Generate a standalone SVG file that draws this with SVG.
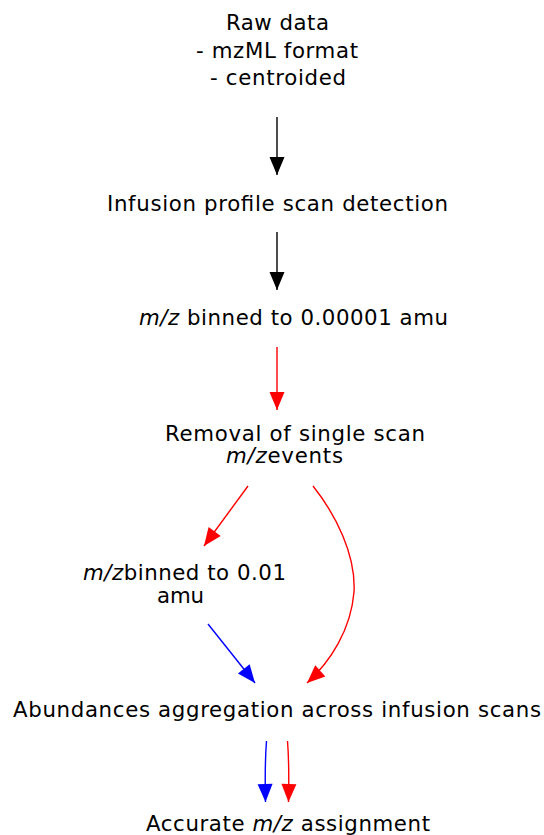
<svg xmlns="http://www.w3.org/2000/svg" width="544" height="835" viewBox="0 0 544 835">
<style>
text{font-family:"DejaVu Sans","Liberation Sans",sans-serif;font-size:21.3px;fill:#000;text-anchor:middle}
.i{font-style:italic}
.e{fill:none;stroke-width:1.4}
</style>
<defs>
<marker id="ak" markerUnits="userSpaceOnUse" markerWidth="20" markerHeight="16" viewBox="0 -8 18 16" refX="18" refY="0" orient="auto"><path d="M0,-7.5L18,0L0,7.5z" fill="#000"/></marker>
<marker id="ar" markerUnits="userSpaceOnUse" markerWidth="20" markerHeight="16" viewBox="0 -8 18 16" refX="18" refY="0" orient="auto"><path d="M0,-7.5L18,0L0,7.5z" fill="#f00"/></marker>
<marker id="ab" markerUnits="userSpaceOnUse" markerWidth="20" markerHeight="16" viewBox="0 -8 18 16" refX="18" refY="0" orient="auto"><path d="M0,-7.5L18,0L0,7.5z" fill="#00f"/></marker>
</defs>
<rect width="544" height="835" fill="#fff"/>
<g id="edges">
<path class="e" stroke="#000" d="M277,117L277,175" marker-end="url(#ak)"/>
<path class="e" stroke="#000" d="M277,232L277,290" marker-end="url(#ak)"/>
<path class="e" stroke="#f00" d="M277,347L277,410" marker-end="url(#ar)"/>
<path class="e" stroke="#f00" d="M248,486L204,546" marker-end="url(#ar)"/>
<path class="e" stroke="#f00" d="M313,486C336,515 356,555 354,592C351,630 330,662 307,683" marker-end="url(#ar)"/>
<path class="e" stroke="#00f" d="M208,624L255,683" marker-end="url(#ab)"/>
<path class="e" stroke="#00f" d="M266.5,741C265,760 265,780 265.5,802" marker-end="url(#ab)"/>
<path class="e" stroke="#f00" d="M287.5,741C289,760 289,780 288.5,802" marker-end="url(#ar)"/>
</g>
<g id="raw">
<text x="277.5" y="30" textLength="103" lengthAdjust="spacing">Raw data</text>
<text x="277" y="57.5" textLength="162" lengthAdjust="spacing">- mzML format</text>
<text x="278" y="85" textLength="136" lengthAdjust="spacing">- centroided</text>
</g>
<g id="infusion">
<text x="277.5" y="211" textLength="341" lengthAdjust="spacing">Infusion profile scan detection</text>
</g>
<g id="bin1">
<text x="293.5" y="325" textLength="309" lengthAdjust="spacing"><tspan class="i">m/z</tspan> binned to 0.00001 amu</text>
</g>
<g id="removal">
<text x="295" y="441" textLength="260" lengthAdjust="spacing">Removal of single scan</text>
<text x="284.5" y="463" textLength="117" lengthAdjust="spacing"><tspan class="i">m/z</tspan>events</text>
</g>
<g id="bin2">
<text x="184.5" y="580" textLength="203" lengthAdjust="spacing"><tspan class="i">m/z</tspan>binned to 0.01</text>
<text x="180.5" y="603" textLength="47" lengthAdjust="spacing">amu</text>
</g>
<g id="aggregation">
<text x="277" y="717" textLength="528" lengthAdjust="spacing">Abundances aggregation across infusion scans</text>
</g>
<g id="assignment">
<text x="288" y="831" textLength="284" lengthAdjust="spacing">Accurate <tspan class="i">m/z</tspan> assignment</text>
</g>
</svg>
